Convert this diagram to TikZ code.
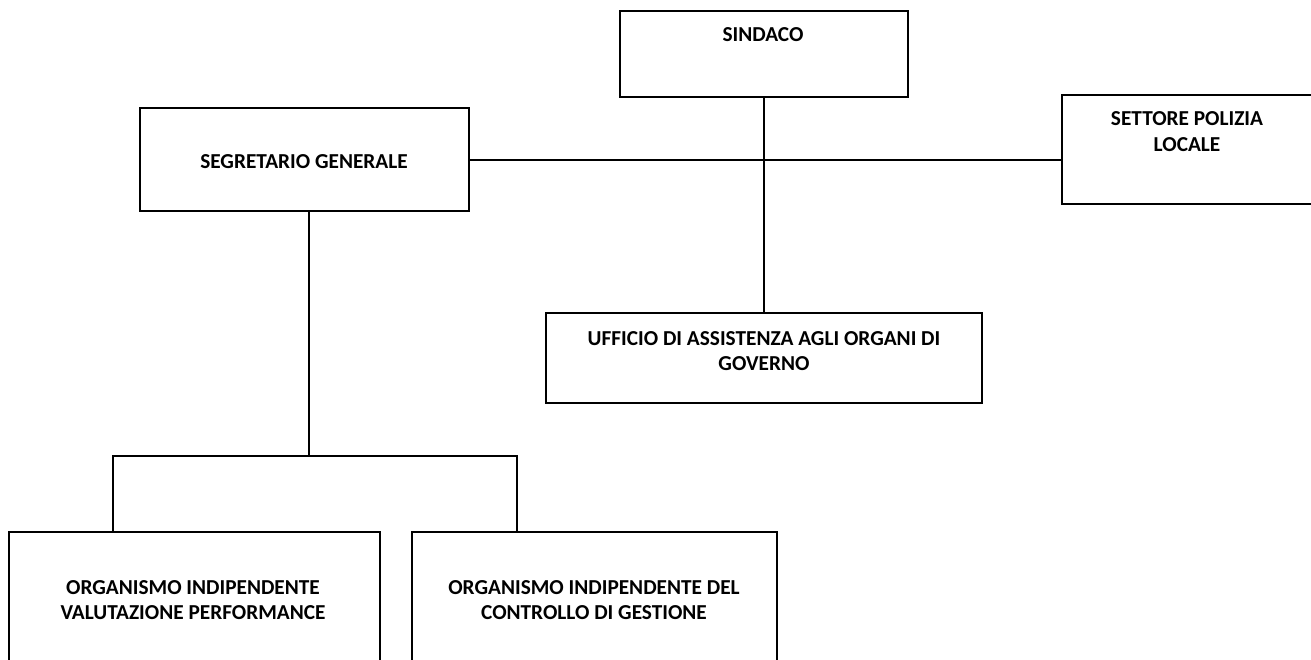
\documentclass[tikz,border=0pt]{standalone}
\usepackage{fontspec}
\setmainfont{Carlito}
\begin{document}
\begin{tikzpicture}[x=1pt,y=-1pt,
  box/.style={draw, line width=1.8pt, rectangle, inner sep=0pt, anchor=north west},
  lbl/.style={font=\bfseries\fontsize{21.3}{25.5}\selectfont, align=center, inner sep=0pt},
  wire/.style={line width=1.8pt}]
\useasboundingbox (0,0) rectangle (1311,659);
\clip (0,0) rectangle (1311,659);
% boxes
\node[box, minimum width=288pt, minimum height=86pt] (sindaco) at (619,10) {};
\node[box, minimum width=329pt, minimum height=103pt] (segr) at (139,107) {};
\node[box, minimum width=250pt, minimum height=109pt] (polizia) at (1061,94) {};
\node[box, minimum width=436pt, minimum height=90pt] (ufficio) at (545,312) {};
\node[box, minimum width=371pt, minimum height=160pt] (oiv) at (8,531) {};
\node[box, minimum width=365pt, minimum height=160pt] (ocg) at (411,531) {};
% texts
\node[lbl] (tsindaco) at (763,35) {SINDACO};
\node[lbl] (tsegr) at (304,162) {SEGRETARIO GENERALE};
\node[lbl] (tpolizia) at (1187,131.5) {SETTORE POLIZIA\\LOCALE};
\node[lbl] (tufficio) at (764,351) {UFFICIO DI ASSISTENZA AGLI ORGANI DI\\GOVERNO};
\node[lbl] (toiv) at (193,600) {ORGANISMO INDIPENDENTE\\VALUTAZIONE PERFORMANCE};
\node[lbl] (tocg) at (594,600) {ORGANISMO INDIPENDENTE DEL\\CONTROLLO DI GESTIONE};
% connectors
\draw[wire] (sindaco.south) -- (sindaco.south |- ufficio.north);
\draw[wire] (segr.east |- 0,160) -- (polizia.west |- 0,160);
\coordinate (j) at (309,456);
\coordinate (jl) at (113,456);
\coordinate (jr) at (517,456);
\draw[wire] (segr.south -| j) -- (j);
\draw[wire] (jl |- oiv.north) -- (jl) -- (jr) -- (jr |- ocg.north);
\end{tikzpicture}
\end{document}
